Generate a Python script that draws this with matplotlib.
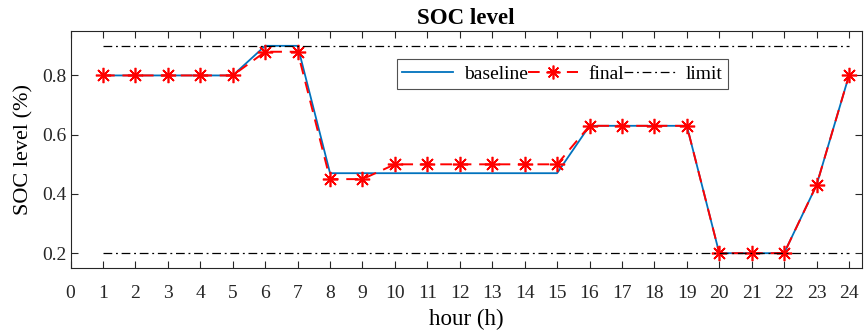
import matplotlib
matplotlib.use("Agg")
import matplotlib.pyplot as plt

hours = list(range(1, 25))
baseline = [0.8, 0.8, 0.8, 0.8, 0.8, 0.9, 0.9, 0.47, 0.47, 0.47, 0.47, 0.47, 0.47, 0.47, 0.47,
            0.63, 0.63, 0.63, 0.63, 0.2, 0.2, 0.2, 0.43, 0.8]
final = [0.8, 0.8, 0.8, 0.8, 0.8, 0.88, 0.88, 0.45, 0.45, 0.5, 0.5, 0.5, 0.5, 0.5, 0.5,
         0.63, 0.63, 0.63, 0.63, 0.2, 0.2, 0.2, 0.43, 0.8]
limit_upper = [0.9] * 24
limit_lower = [0.2] * 24
xticks = list(range(0, 25))
yticks = [0.2, 0.4, 0.6, 0.8]

plt.rcParams['font.family'] = ['Liberation Serif', 'DejaVu Serif']

fig = plt.figure(figsize=(8.65, 3.36), dpi=100)
ax = fig.add_axes([0.0816, 0.2024, 0.9149, 0.7053])

ax.plot(hours, baseline, color=(0, 0.447, 0.741), lw=1.3, label='baseline')
ax.plot(hours, final, color='red', ls=(0, (6, 4)), lw=1.4, marker=(8, 2, 0), markersize=11,
        markeredgewidth=1.2, markeredgecolor='red', label='final')
ax.plot(hours, limit_upper, color='black', ls=(0, (7, 3, 1.5, 3)), lw=0.9, label='limit')
ax.plot(hours, limit_lower, color='black', ls=(0, (7, 3, 1.5, 3)), lw=0.9)

ax.set_xlim(0, 24.4)
ax.set_ylim(0.15, 0.95)
ax.set_xticks(xticks)
ax.set_yticks(yticks)
ax.set_yticklabels([f"{v:.1f}" for v in yticks])
ax.tick_params(direction='in', top=True, right=True, labelsize=14, colors='#262626',
               length=5, width=0.8)
ax.tick_params(axis='x', pad=12)
ax.tick_params(axis='y', pad=3)
for s in ax.spines.values():
    s.set_color('#262626')
    s.set_linewidth(0.8)

ax.set_title('SOC level', fontsize=16.5, fontweight='bold', pad=5)
ax.set_xlabel('hour (h)', fontsize=16.5, labelpad=5)
ax.set_ylabel('SOC level (%)', fontsize=16, labelpad=6)

leg = ax.legend(loc='upper left', bbox_to_anchor=(0.412, 0.88), ncol=3, fontsize=14,
                frameon=True, fancybox=False, edgecolor='#262626', handlelength=2.6,
                handletextpad=0.55, columnspacing=0.0, borderpad=0.3, borderaxespad=0,
                markerscale=0.9)
leg.get_frame().set_linewidth(0.8)

fig.savefig('out.png', dpi=100)
